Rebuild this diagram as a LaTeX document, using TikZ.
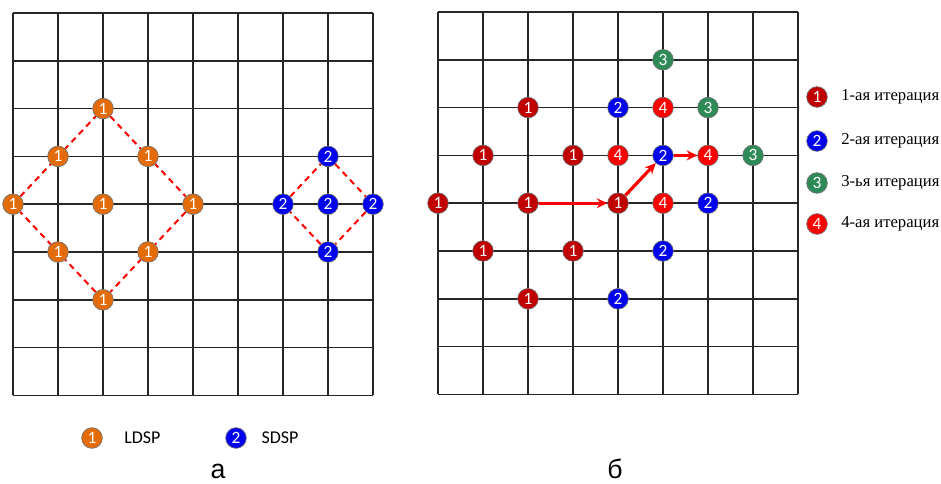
\documentclass[tikz,border=0pt]{standalone}
\usepackage{fontspec}
\setmainfont{Liberation Serif}
\newfontfamily\numfont{Carlito}
\newfontfamily\labfont{Liberation Sans}
\usetikzlibrary{arrows.meta, positioning, backgrounds}

\definecolor{ldspor}{RGB}{227,108,10}
\definecolor{itone}{RGB}{192,0,0}
\definecolor{ittwo}{RGB}{0,0,240}
\definecolor{itthree}{RGB}{46,139,87}
\definecolor{itfour}{RGB}{255,0,0}

\tikzset{
  pt/.style={circle, draw=black!55, line width=0.5pt, fill=#1, text=white,
    minimum size=15.5pt, inner sep=0pt, font=\numfont\fontsize{13}{13}\selectfont},
  gridline/.style={black!85, line width=1.1pt},
  diam/.style={red, line width=1.5pt, dash pattern=on 4.5pt off 3.5pt},
  move/.style={-{Stealth[length=8pt,width=7.5pt]}, red, line width=2.4pt},
  legtext/.style={inner sep=0pt, font=\fontsize{12.5}{14}\selectfont},
  keytext/.style={inner sep=0pt, font=\numfont\fontsize{13.5}{14}\selectfont},
  panel/.style={inner sep=0pt, anchor=base, font=\labfont\fontsize{20}{20}\selectfont},
}

\begin{document}
\begin{tikzpicture}[x=0.75pt, y=-0.75pt]
  \useasboundingbox (0,0) rectangle (941,483);

  % Left panel: LDSP and SDSP
  \begin{scope}[shift={(13,13)}, x=33.75pt, y=-35.85pt]
    \begin{scope}[on background layer]
      \foreach \i in {0,...,8} {
        \draw[gridline] (\i,0) -- (\i,8);
        \draw[gridline] (0,\i) -- (8,\i);
      }
    \end{scope}
    \foreach \n/\i/\j in {l1/2/2, l2/1/3, l3/3/3, l4/0/4, l5/2/4, l6/4/4, l7/1/5, l8/3/5, l9/2/6}
      \node[pt=ldspor] (\n) at (\i,\j) {1};
    \foreach \n/\i/\j in {s1/7/3, s2/6/4, s3/7/4, s4/8/4, s5/7/5}
      \node[pt=ittwo] (\n) at (\i,\j) {2};
    \begin{scope}[on background layer]
      \draw[diam] (l4) -- (l1) -- (l6) -- (l9) -- (l4);
      \draw[diam] (s2) -- (s1) -- (s4) -- (s5) -- (s2);
    \end{scope}
  \end{scope}

  % Right panel: search iterations
  \begin{scope}[shift={(438,12)}, x=33.75pt, y=-35.85pt]
    \begin{scope}[on background layer]
      \foreach \i in {0,...,8} {
        \draw[gridline] (\i,0) -- (\i,8);
        \draw[gridline] (0,\i) -- (8,\i);
      }
    \end{scope}
    \foreach \n/\i/\j in {a1/2/2, a2/1/3, a3/3/3, a4/0/4, a5/2/4, a6/4/4, a7/1/5, a8/3/5, a9/2/6}
      \node[pt=itone] (\n) at (\i,\j) {1};
    \foreach \n/\i/\j in {b1/4/2, b2/5/3, b3/6/4, b4/5/5, b5/4/6}
      \node[pt=ittwo] (\n) at (\i,\j) {2};
    \foreach \n/\i/\j in {c1/5/1, c2/6/2, c3/7/3}
      \node[pt=itthree] (\n) at (\i,\j) {3};
    \foreach \n/\i/\j in {d1/5/2, d2/4/3, d3/6/3, d4/5/4}
      \node[pt=itfour] (\n) at (\i,\j) {4};
    % Search path
    \draw[move] (a5) -- (a6);
    \draw[move] (a6) -- (b2);
    \draw[move] (b2) -- (d3);
  \end{scope}

  % Legend (right)
  \node[pt=itone] (k1) at (817,97) {1};
  \node[legtext, right=10pt of k1] {1-ая итерация};
  \node[pt=ittwo] (k2) at (817,141) {2};
  \node[legtext, right=10pt of k2] {2-ая итерация};
  \node[pt=itthree] (k3) at (817,183) {3};
  \node[legtext, right=10pt of k3] {3-ья итерация};
  \node[pt=itfour] (k4) at (817,224) {4};
  \node[legtext, right=10pt of k4] {4-ая итерация};

  % Legend (bottom)
  \node[pt=ldspor] (kl) at (92,438) {1};
  \node[keytext, right=16pt of kl] {LDSP};
  \node[pt=ittwo] (ks) at (236,438) {2};
  \node[keytext, right=11pt of ks] {SDSP};

  % Panel labels
  \node[panel] (pa) at (218,478) {а};
  \node[panel] (pb) at (615,478) {б};
\end{tikzpicture}
\end{document}
